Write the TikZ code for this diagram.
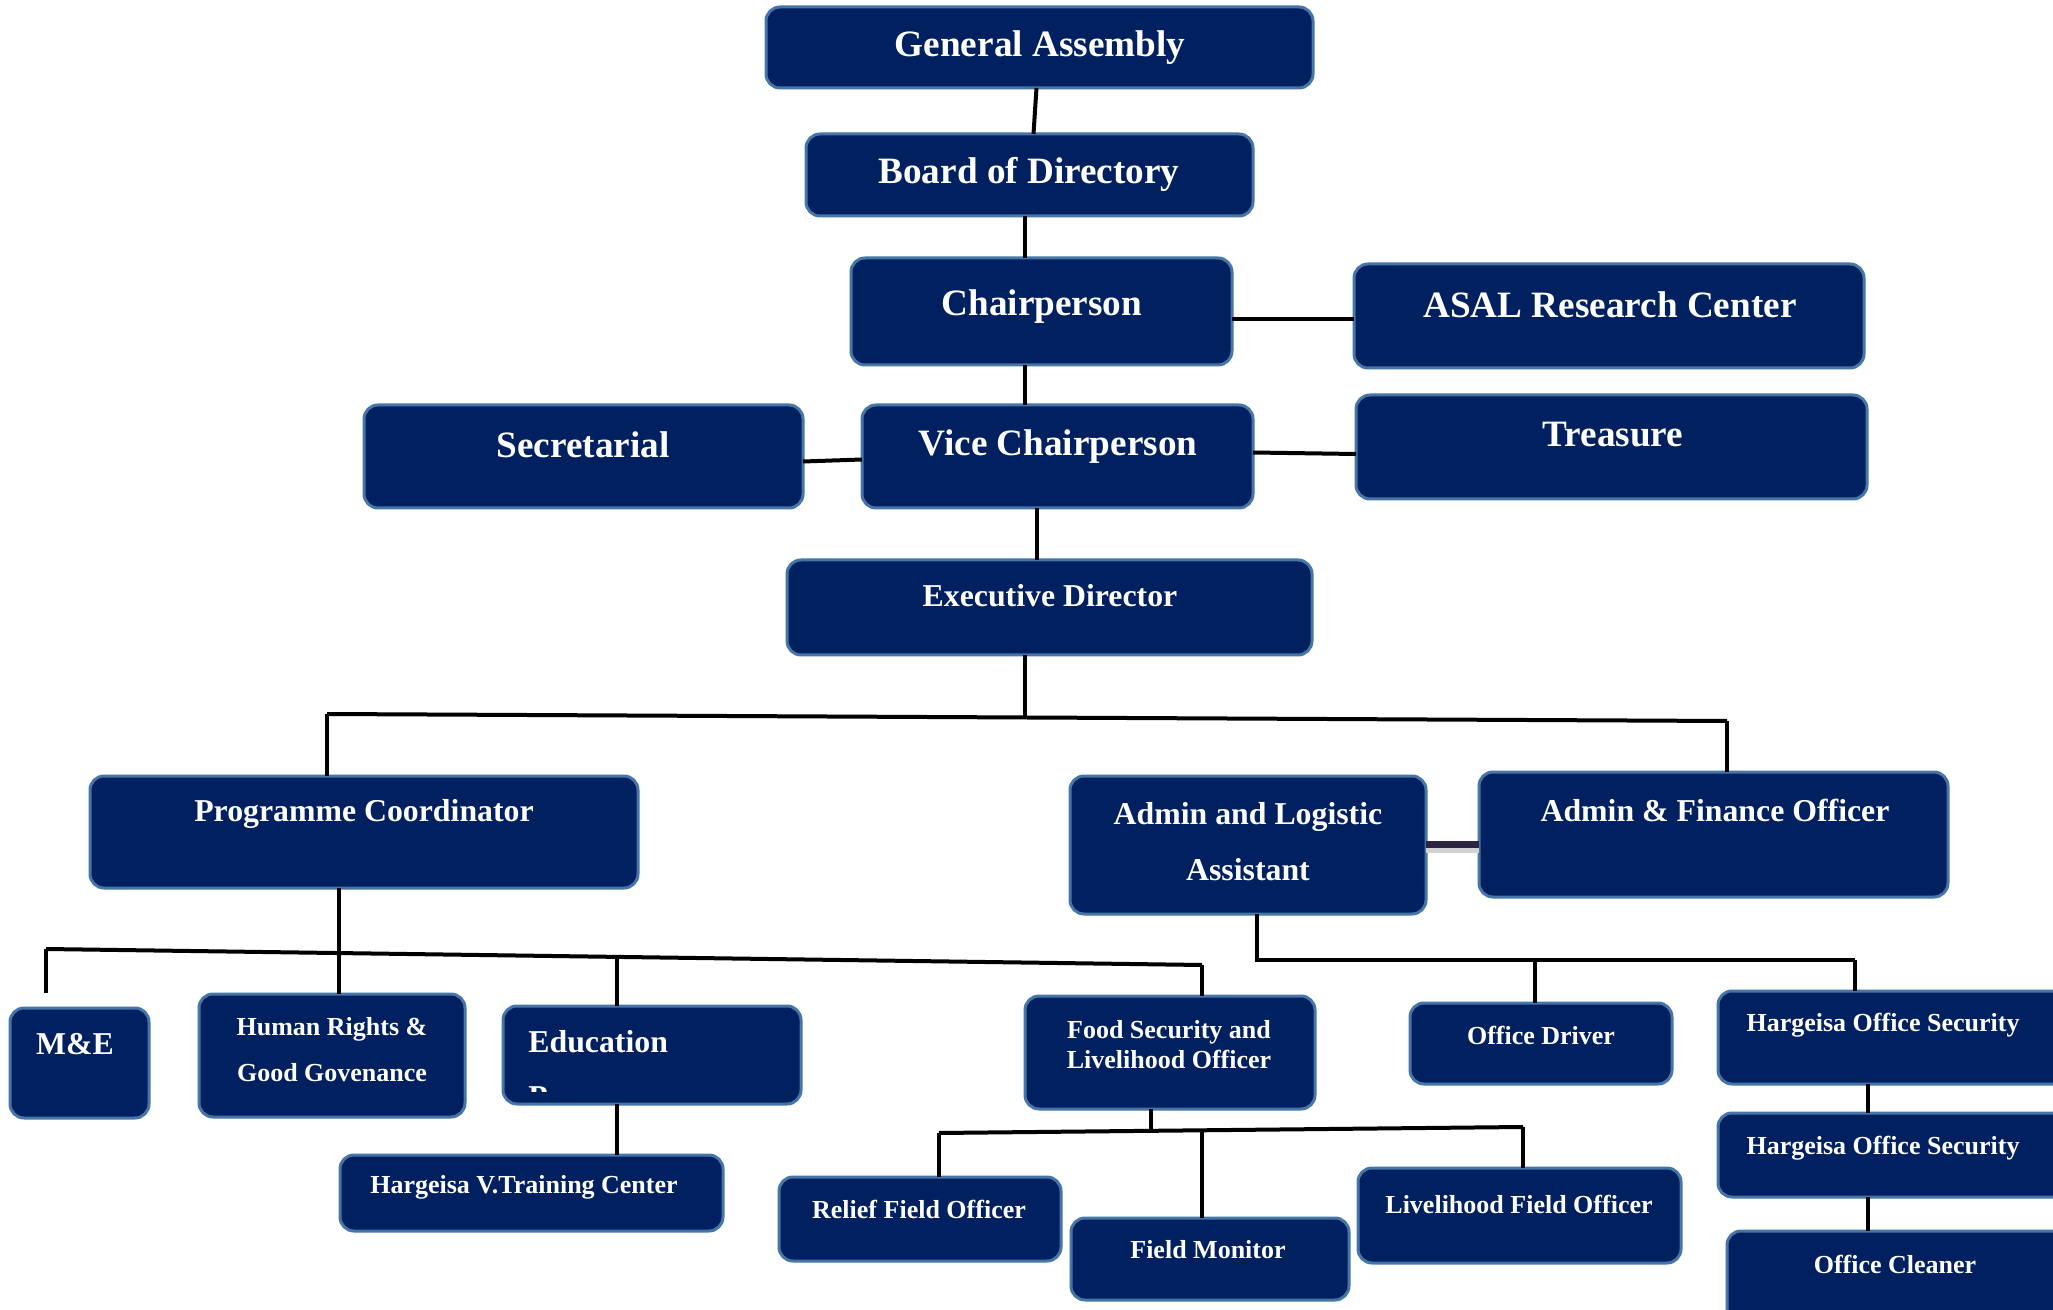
\documentclass[tikz,border=0pt]{standalone}
\usepackage{fontspec}
\setmainfont{Liberation Serif}
\usetikzlibrary{calc}
\definecolor{boxfill}{HTML}{002060}
\definecolor{boxedge}{HTML}{4676A8}
\definecolor{thickln}{HTML}{2B2543}
\newcommand\fL{\bfseries\fontsize{18.6}{22}\selectfont}
\newcommand\fM{\bfseries\fontsize{15.9}{19}\selectfont}
\newcommand\fS{\bfseries\fontsize{13}{15.5}\selectfont}
\newcommand\bx[5]{\node[box, minimum width={(#4-#2)*0.5pt}, minimum height={(#5-#3)*0.5pt}] (#1) at ({(#2+#4)/2},{(#3+#5)/2}) {};}
\tikzset{
  box/.style={draw=boxedge, fill=boxfill, line width=1.5pt, rounded corners=7pt, inner sep=0pt, outer sep=0pt},
  lbl/.style={text=white, inner sep=0pt, align=center},
  conn/.style={draw=black, line width=2pt},
}
\begin{document}
\begin{tikzpicture}[x=0.5pt,y=-0.5pt]
\clip (0,0) rectangle (2053,1310);
\fill[white] (0,0) rectangle (2053,1310);
% boxes
\bx{ga}{766}{7}{1313}{88}
\bx{bd}{806}{134}{1253}{216}
\bx{ch}{851}{258}{1232}{365}
\bx{asal}{1354}{264}{1864}{368}
\bx{sec}{364}{405}{803}{508}
\bx{vc}{862}{405}{1253}{508}
\bx{tr}{1356}{395}{1867}{499}
\bx{ed}{787}{560}{1312}{655}
\bx{pc}{90}{776}{638}{888}
\bx{al}{1070}{776}{1426}{914}
\bx{af}{1479}{772}{1948}{897}
\bx{me}{10}{1008}{149}{1118}
\bx{hr}{199}{994}{465}{1117}
\bx{edu}{503}{1006}{801}{1104}
\bx{hvtc}{340}{1155}{723}{1231}
\bx{fs}{1025}{996}{1315}{1109}
\bx{od}{1410}{1003}{1672}{1084}
\bx{hosa}{1718}{991}{2075}{1084}
\bx{hosb}{1718}{1113}{2075}{1197}
\bx{oc}{1727}{1231}{2075}{1335}
\bx{rfo}{779}{1177}{1061}{1261}
\bx{fm}{1071}{1218}{1349}{1300}
\bx{lfo}{1358}{1168}{1681}{1263}
% labels
\node[lbl,font=\fL] (tga) at (1040,48) {General Assembly};
\node[lbl,font=\fL] (tbd) at (1029,174) {Board of Directory};
\node[lbl,font=\fL] (tch) at (1042,307) {Chairperson};
\node[lbl,font=\fL] (tasal) at (1610,305) {ASAL Research Center};
\node[lbl,font=\fL] (tsec) at (583,445) {Secretarial};
\node[lbl,font=\fL] (tvc) at (1058,447) {Vice Chairperson};
\node[lbl,font=\fL] (ttr) at (1613,435) {Treasure};
\node[lbl,font=\fM] (ted) at (1050,596) {Executive Director};
\node[lbl,font=\fM] (tpc) at (364,814) {Programme Coordinator};
\node[lbl,font={\bfseries\fontsize{15.9}{28}\selectfont}] (tal) at (1248,842) {Admin and Logistic\\Assistant};
\node[lbl,font=\fM] (taf) at (1715,810) {Admin \& Finance Officer};
\node[lbl,font=\fM] (tme) at (75,1044) {M\&E};
\node[lbl,font={\bfseries\fontsize{13}{23}\selectfont}] (thr) at (332,1050) {Human Rights \&\\Good Govenance};
\node[lbl,font=\fM,anchor=west] (tedu) at (528,1042) {Education};
\begin{scope}
\clip (503,1006) rectangle (801,1091);
\node[lbl,font=\fM,anchor=base west] (tedup) at (528,1107) {P};
\end{scope}
\node[lbl,font=\fS] (thvtc) at (524,1187) {Hargeisa V.Training Center};
\node[lbl,font={\bfseries\fontsize{13}{15}\selectfont}] (tfs) at (1169,1045) {Food Security and\\Livelihood Officer};
\node[lbl,font=\fS] (tod) at (1541,1035) {Office Driver};
\node[lbl,font=\fS] (thosa) at (1883,1025) {Hargeisa Office Security};
\node[lbl,font=\fS] (thosb) at (1883,1148) {Hargeisa Office Security};
\node[lbl,font=\fS] (toc) at (1895,1264) {Office Cleaner};
\node[lbl,font=\fS] (trfo) at (919,1209) {Relief Field Officer};
\node[lbl,font=\fS] (tfm) at (1208,1250) {Field Monitor};
\node[lbl,font=\fS] (tlfo) at (1519,1204) {Livelihood Field Officer};
% junction coordinates
\coordinate (c1) at (1024.5,300);
\coordinate (c2) at (1037,300);
\coordinate (k1) at (1300,319.5);
\coordinate (j0) at (1024.5,717);
\coordinate (j1) at (327,714);
\coordinate (j2) at (1727,721);
\coordinate (p1) at (339,900);
\coordinate (b1) at (46,949);
\coordinate (b1e) at (46,993);
\coordinate (b2) at (1202,965);
\coordinate (be) at (617,957);
\coordinate (a1) at (1450,844);
\coordinate (n0) at (1257,960);
\coordinate (n1) at (1535,960);
\coordinate (n2) at (1855,960);
\coordinate (h1) at (1868,1100);
\coordinate (f0) at (1151,1131);
\coordinate (f1) at (939,1133);
\coordinate (f2) at (1202,1130);
\coordinate (f3) at (1523,1127);
% connectors
\draw[conn] ($(ga.south)+(-3,0)$) -- ($(bd.north)+(4,0)$);
\draw[conn] (bd.south -| c1) -- (ch.north -| c1);
\draw[conn] (ch.east |- k1) -- (asal.west |- k1);
\draw[conn] (ch.south -| c1) -- (vc.north -| c1);
\draw[conn] ($(sec.east)+(0,5)$) -- ($(vc.west)+(0,3)$);
\draw[conn] ($(vc.east)+(0,-4)$) -- ($(tr.west)+(0,7)$);
\draw[conn] (vc.south -| c2) -- (ed.north -| c2);
\draw[conn] (ed.south -| c1) -- (j0);
\draw[conn] (j1) -- (j2);
\draw[conn] (j1) -- (pc.north -| j1);
\draw[conn] (j2) -- (af.north -| j2);
\draw[conn] (pc.south -| p1) -- (hr.north -| p1);
\draw[conn] (b1) -- (b2);
\draw[conn] (b1) -- (b1e);
\draw[conn] (be) -- (edu.north -| be);
\draw[conn] (b2) -- (fs.north -| b2);
\draw[conn] (edu.south -| be) -- (hvtc.north -| be);
\draw[gray!35, line width=3.5pt] ($(al.east |- a1)+(0,5)$) -- ($(af.west |- a1)+(0,5)$);
\draw[thickln, line width=3.5pt] (al.east |- a1) -- (af.west |- a1);
\draw[conn] (al.south -| n0) -- (n0) -- (n2);
\draw[conn] (n1) -- (od.north -| n1);
\draw[conn] (n2) -- (hosa.north -| n2);
\draw[conn] (hosa.south -| h1) -- (hosb.north -| h1);
\draw[conn] (hosb.south -| h1) -- (oc.north -| h1);
\draw[conn] (fs.south -| f0) -- (f0);
\draw[conn] (f1) -- (f3);
\draw[conn] (f1) -- (rfo.north -| f1);
\draw[conn] (f2) -- (fm.north -| f2);
\draw[conn] (f3) -- (lfo.north -| f3);
\end{tikzpicture}
\end{document}
